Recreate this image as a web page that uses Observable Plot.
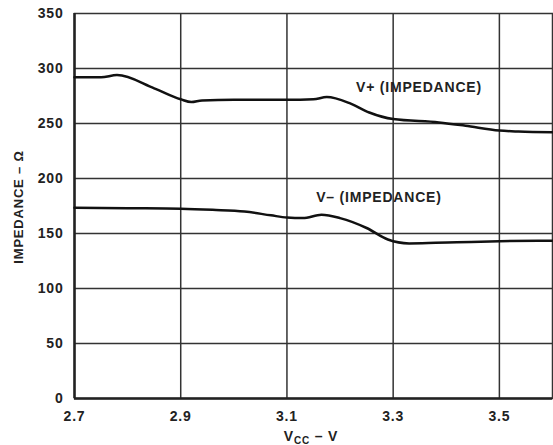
<!DOCTYPE html>
<html>
<head>
<meta charset="utf-8">
<script src="https://cdn.jsdelivr.net/npm/d3@7"></script>
<script src="https://cdn.jsdelivr.net/npm/@observablehq/plot@0.6"></script>
<style>
  html, body { margin: 0; padding: 0; background: #fff; }
  #chart { width: 553px; height: 445px; }
  svg { font-family: "Liberation Sans", Arial, sans-serif; }
</style>
</head>
<body>
<div id="chart"></div>
<script>
// Data
const vccPlus = [2.70, 2.75, 2.78, 2.85, 2.90, 2.92, 2.94, 3.00, 3.10, 3.15, 3.175, 3.22, 3.255, 3.30, 3.386, 3.436, 3.50, 3.536, 3.60];
const impPlus = [292, 292, 294, 282, 272, 269.5, 271, 271.5, 271.5, 272, 274, 268, 260, 254, 251, 248, 243.6, 242.7, 242];

const vccMinus = [2.70, 2.80, 2.90, 2.96, 3.02, 3.07, 3.10, 3.13, 3.165, 3.20, 3.25, 3.29, 3.33, 3.38, 3.42, 3.50, 3.60];
const impMinus = [173.5, 173, 172.5, 171.5, 170, 166.5, 164.5, 164, 167, 164, 155, 144.5, 141, 141.5, 142, 143, 143.5];

const xTicks = [2.7, 2.9, 3.1, 3.3, 3.5];
const yTicks = [0, 50, 100, 150, 200, 250, 300, 350];

const labelNames = ["V+ (IMPEDANCE)", "V\u2013 (IMPEDANCE)"];
const labelX = [3.23, 3.155];
const labelY = [282.5, 182.5];

const plusData = vccPlus.map((v, i) => ({v, z: impPlus[i]}));
const minusData = vccMinus.map((v, i) => ({v, z: impMinus[i]}));
const labels = labelNames.map((t, i) => ({t, x: labelX[i], y: labelY[i]}));

const plot = Plot.plot({
  width: 553,
  height: 445,
  marginLeft: 74,
  marginRight: 1,
  marginTop: 13,
  marginBottom: 47,
  style: {fontFamily: "'Liberation Sans', Arial, sans-serif", fontSize: "14px", fontWeight: "bold", color: "#222", background: "#fff", letterSpacing: "0.8px"},
  x: {domain: [2.7, 3.6], label: null},
  y: {domain: [0, 350], label: null},
  marks: [
    Plot.gridX(xTicks.slice(1), {stroke: "#333", strokeOpacity: 1, strokeWidth: 1.5}),
    Plot.gridY(yTicks.slice(1, -1), {stroke: "#333", strokeOpacity: 1, strokeWidth: 1.5}),
    Plot.frame({stroke: "#333", strokeWidth: 1.5}),
    Plot.ruleX([2.7], {stroke: "#222", strokeWidth: 2.5}),
    Plot.ruleY([0], {stroke: "#222", strokeWidth: 2.5}),
    Plot.axisX({ticks: xTicks, tickFormat: d => d.toFixed(1), tickSize: 0, tickPadding: 13, label: null, fontWeight: "bold", fontSize: 14}),
    Plot.axisY({ticks: yTicks, tickSize: 0, tickPadding: 11, label: null, fontWeight: "bold", fontSize: 14}),
    Plot.line(plusData, {x: "v", y: "z", stroke: "#111", strokeWidth: 2.5, curve: "monotone-x"}),
    Plot.line(minusData, {x: "v", y: "z", stroke: "#111", strokeWidth: 2.5, curve: "monotone-x"}),
    Plot.text(labels, {x: "x", y: "y", text: "t", textAnchor: "start", fill: "#222", fontWeight: "bold", fontSize: 14})
  ]
});

const svg = d3.select(plot);
// Y axis title (rotated)
svg.append("text")
  .attr("transform", "translate(20,207) rotate(-90)")
  .attr("text-anchor", "middle")
  .attr("dominant-baseline", "middle")
  .attr("font-size", 13)
  .attr("font-weight", "bold")
  .attr("fill", "#222")
  .text("IMPEDANCE \u2013 \u03A9");
// X axis title with subscript
const xt = svg.append("text")
  .attr("x", 311)
  .attr("y", 441)
  .attr("text-anchor", "middle")
  .attr("font-size", 14)
  .attr("font-weight", "bold")
  .attr("fill", "#222");
xt.append("tspan").text("V");
xt.append("tspan").attr("font-size", 10).attr("dy", 3).text("CC");
xt.append("tspan").attr("dy", -3).text(" \u2013 V");

document.getElementById("chart").appendChild(plot);
</script>
</body>
</html>
